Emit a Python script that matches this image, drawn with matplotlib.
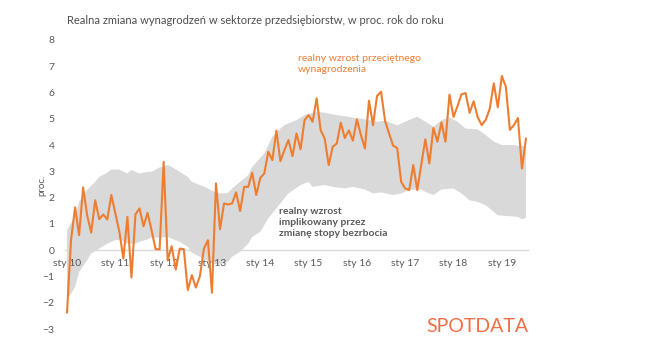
import numpy as np
import matplotlib
matplotlib.use("Agg")
import matplotlib.pyplot as plt

plt.rcParams['font.family'] = ['Lato', 'DejaVu Sans']

# -----------------------------
# Data (months since Jan 2010)
# -----------------------------
wage_growth = [
    -2.37, 0.4, 1.63, 0.57, 2.39, 1.33, 0.67, 1.9, 1.18, 1.36, 1.17, 2.1,
    1.4, 0.7, -0.32, 1.27, -1.04, 1.36, 1.59, 0.91, 1.42, 0.76, 0.04, 0.03,
    3.36, -0.38, 0.15, -0.74, 0.06, 0.04, -1.52, -0.95, -1.42, -0.99, 0.06, 0.38,
    -1.62, 2.54, 0.8, 1.78, 1.74, 1.78, 2.2, 1.49, 2.41, 2.41, 2.95, 2.1,
    2.75, 2.92, 3.75, 3.43, 4.55, 3.39, 3.81, 4.19, 3.58, 4.44, 3.84, 4.95,
    5.14, 4.89, 5.78, 4.57, 4.25, 3.24, 3.94, 4.06, 4.85, 4.27, 4.56, 4.17,
    4.98, 4.38, 3.87, 5.69, 4.76, 5.87, 6.03, 4.92, 4.44, 3.98, 3.89, 2.6,
    2.35, 2.29, 3.24, 2.29, 3.27, 4.22, 3.3, 4.65, 4.13, 4.86, 4.13, 5.92,
    5.07, 5.49, 5.94, 5.98, 5.23, 5.67, 5.06, 4.76, 4.96, 5.38, 6.35, 5.44,
    6.63, 6.22, 4.58, 4.76, 5.03, 3.11, 4.25,
]
months = np.arange(len(wage_growth))

band_upper_m = [0, 2, 3, 5, 7, 8, 10, 11, 13, 15, 16, 18, 20, 21, 23, 25, 26, 28,
                30, 31, 33, 35, 36, 38, 40, 41, 43, 45, 46, 49, 51, 53, 54, 57,
                59, 62, 64, 67, 69, 72, 74, 77, 79, 82, 84, 87, 89, 91, 93, 95,
                97, 99, 102, 104, 106, 108, 111, 113, 114]
band_upper = [0.76, 1.3, 1.84, 2.29, 2.6, 2.79, 2.95, 3.07, 3.07, 2.92, 3.05, 2.92,
              2.98, 2.98, 3.15, 3.24, 3.17, 2.98, 2.79, 2.6, 2.48, 2.35, 2.26, 2.16,
              2.18, 2.35, 2.6, 2.85, 3.17, 3.68, 4.32, 4.63, 4.76, 4.95, 5.14, 5.27,
              5.23, 5.14, 5.1, 5.02, 4.98, 4.89, 4.93, 4.75, 4.89, 5.08, 4.89, 4.7,
              4.95, 5.05, 4.89, 4.63, 4.6, 4.38, 4.13, 4.0, 4.0, 3.96, 3.96]

band_lower_m = [0, 2, 3, 5, 6, 8, 10, 12, 13, 15, 17, 18, 20, 21, 23, 25, 26, 28,
                30, 31, 33, 35, 36, 38, 40, 41, 43, 45, 46, 48, 50, 53, 55, 58,
                60, 61, 64, 66, 69, 71, 74, 76, 78, 81, 83, 85, 88, 89, 91, 93,
                96, 98, 100, 102, 104, 106, 107, 110, 112, 113, 114]
band_lower = [-1.9, -1.4, -0.83, -0.38, -0.13, 0.06, 0.25, 0.38, 0.4, 0.25, 0.25, 0.32,
              0.41, 0.48, 0.48, 0.51, 0.44, 0.32, 0.13, -0.1, -0.25, -0.41, -0.51, -0.55,
              -0.44, -0.25, -0.06, 0.25, 0.5, 0.7, 1.21, 1.78, 2.16, 2.48, 2.6, 2.41,
              2.48, 2.41, 2.35, 2.41, 2.31, 2.16, 2.2, 2.1, 2.16, 2.29, 2.31, 2.22,
              2.1, 2.31, 2.35, 2.16, 1.9, 1.84, 1.71, 1.46, 1.33, 1.29, 1.27, 1.17, 1.24]

tick_months = [0, 12, 24, 36, 48, 60, 72, 84, 96, 108]
tick_labels = ["sty 10", "sty 11", "sty 12", "sty 13", "sty 14",
               "sty 15", "sty 16", "sty 17", "sty 18", "sty 19"]

ORANGE = "#ED7D31"
GRAY_TXT = "#595959"

# -----------------------------
# Figure
# -----------------------------
fig = plt.figure(figsize=(6.45, 3.52), dpi=100)
ax = fig.add_axes([0.1008, 0.0653, 0.7178, 0.8211])

band_x = np.concatenate([band_upper_m, band_lower_m[::-1]])
band_y = np.concatenate([band_upper, band_lower[::-1]])
ax.fill(band_x, band_y, color="#d9d9d9", lw=0, zorder=1)

ax.plot(months, wage_growth, color=ORANGE, lw=1.5, zorder=3)

ax.set_xlim(-0.5, 114.5)
ax.set_ylim(-3, 8)
ax.set_yticks(range(-3, 9))
ax.tick_params(axis='y', length=0, pad=7.5, labelsize=7.5, labelcolor=GRAY_TXT)

for s in ['top', 'right', 'left']:
    ax.spines[s].set_visible(False)
ax.spines['bottom'].set_position(('data', 0))
ax.spines['bottom'].set_color("#d9d9d9")
ax.spines['bottom'].set_linewidth(1.0)
ax.spines['bottom'].set_zorder(0.5)
ax.set_xticks(tick_months)
ax.set_xticklabels(tick_labels)
ax.tick_params(axis='x', length=0, pad=6, labelsize=7.5, labelcolor=GRAY_TXT)

ax.text(-6.3, 2.45, "proc.", rotation=90, ha='center', va='center',
        fontsize=7, color=GRAY_TXT, clip_on=False)

# annotations
ax.text(57.3, 7.1, "realny wzrost przeciętnego\nwynagrodzenia", color=ORANGE,
        fontsize=7.5, ha='left', va='center', linespacing=1.25)
ax.text(52.6, 1.05, "realny wzrost\nimplikowany przez\nzmianę stopy bezrbocia",
        color=GRAY_TXT, fontsize=7.5, fontweight='bold', ha='left', va='center',
        linespacing=1.3)

fig.text(66.7 / 645, 1 - 20 / 352,
         "Realna zmiana wynagrodzeń w sektorze przedsiębiorstw, w proc. rok do roku",
         fontsize=8.0, color="#4d4d4d", ha='left', va='center')

fig.text(528 / 645, 1 - 327 / 352, "SPOTDATA", fontsize=14, color="#F26F45",
         ha='right', va='center')

fig.savefig("out.png", dpi=100, facecolor="white")
